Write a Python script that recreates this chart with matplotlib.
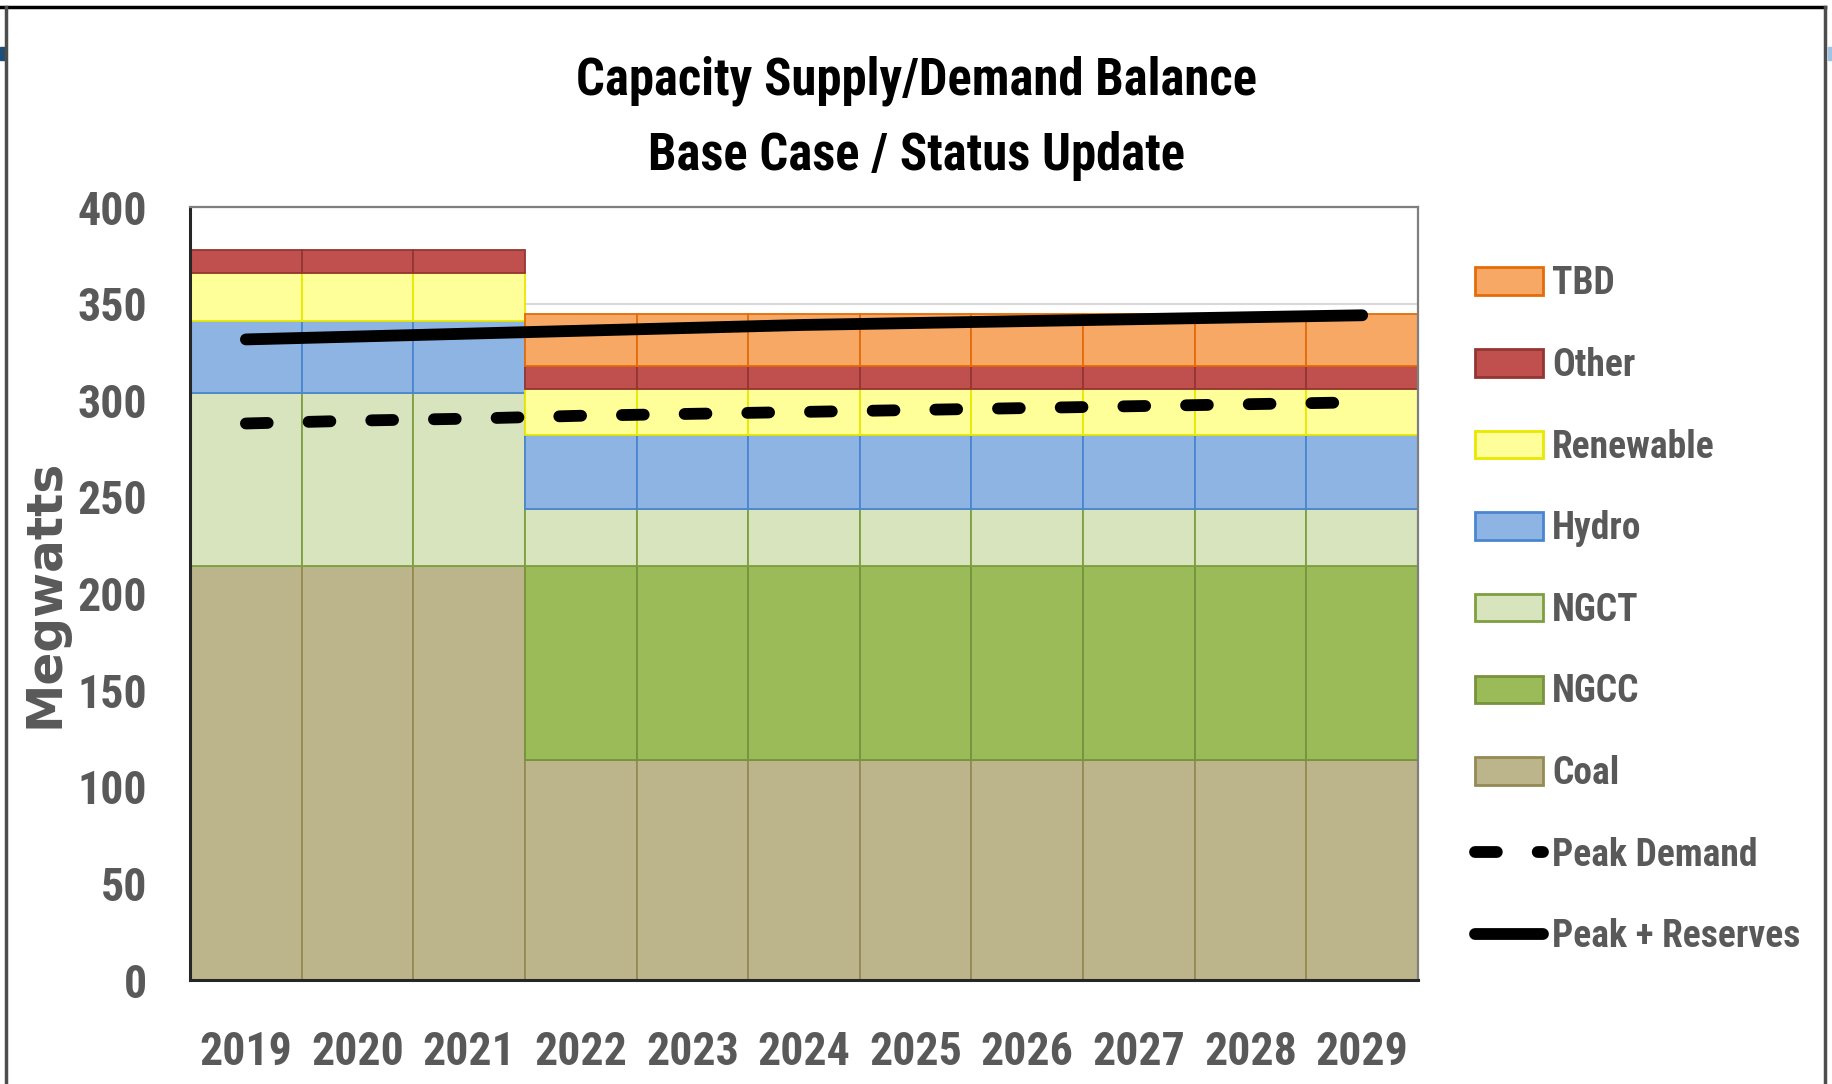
import matplotlib
matplotlib.use("Agg")
import matplotlib.pyplot as plt
import numpy as np
from matplotlib import font_manager
from matplotlib.font_manager import FontProperties
from matplotlib.lines import Line2D
from matplotlib.patches import Rectangle, Patch

# data (MW)
years = ['2019', '2020', '2021', '2022', '2023', '2024', '2025', '2026', '2027', '2028', '2029']
coal = [214, 214, 214, 114, 114, 114, 114, 114, 114, 114, 114]
ngcc = [0, 0, 0, 100, 100, 100, 100, 100, 100, 100, 100]
ngct = [90, 90, 90, 30, 30, 30, 30, 30, 30, 30, 30]
hydro = [37, 37, 37, 38, 38, 38, 38, 38, 38, 38, 38]
renewable = [25, 25, 25, 24, 24, 24, 24, 24, 24, 24, 24]
other = [12, 12, 12, 12, 12, 12, 12, 12, 12, 12, 12]
tbd = [0, 0, 0, 26.5, 26.5, 26.5, 26.5, 26.5, 26.5, 26.5, 26.5]
peak_demand = [288, 289.5, 290.5, 292, 293, 294, 295, 296, 297, 298, 299]
peak_reserves = [331.5, 333, 334.5, 336, 337.5, 339, 340, 341, 342, 343, 344]


def weight_num(w):
    if isinstance(w, (int, float)):
        return w
    return {'bold': 700, 'semibold': 600, 'demibold': 600, 'heavy': 800,
            'black': 900, 'extra bold': 800}.get(str(w).lower(), 400)


def pick_narrow_bold():
    # look for an installed condensed / narrow bold face
    prefs = ['Liberation Sans Narrow', 'Roboto Condensed', 'Open Sans Condensed',
             'Noto Sans', 'Open Sans', 'Roboto', 'DejaVu Sans']
    best = None
    for f in font_manager.fontManager.ttflist:
        st = str(f.stretch).lower()
        narrowish = ('condensed' in st or 'narrow' in f.name.lower()
                     or 'condensed' in f.name.lower()
                     or (isinstance(f.stretch, (int, float)) and f.stretch < 500))
        if not narrowish or f.style != 'normal':
            continue
        w = weight_num(f.weight)
        if w < 600:
            continue
        rank = prefs.index(f.name) if f.name in prefs else len(prefs)
        key = (rank, abs(w - 700))
        if best is None or key < best[0]:
            best = (key, f.fname)
    return best[1] if best else None


narrow_path = pick_narrow_bold()


def nfont(size):
    if narrow_path:
        return FontProperties(fname=narrow_path, size=size)
    return FontProperties(family='Liberation Sans', weight='bold', size=size * 0.84)


grey = '#595959'

fig = plt.figure(figsize=(18.33, 10.84), dpi=100)
ax = fig.add_axes([0.1037, 0.0959, 0.6699, 0.7131])

# bottom -> top stacking order
series = [
    ('Coal', coal, '#BCB48A', '#948A54'),
    ('NGCC', ngcc, '#9BBB59', '#77933C'),
    ('NGCT', ngct, '#D7E4BD', '#7F9F3F'),
    ('Hydro', hydro, '#8EB4E3', '#4A86D0'),
    ('Renewable', renewable, '#FFFF99', '#E8E800'),
    ('Other', other, '#C0504D', '#943634'),
    ('TBD', tbd, '#F7A865', '#E46C0A'),
]

x = np.arange(len(years))
base = np.zeros(len(years))
handles = {}
for name, vals, fc, ec in series:
    vals = np.array(vals, dtype=float)
    m = vals > 0
    ax.bar(x[m], vals[m], width=1.0, bottom=base[m], color=fc, edgecolor=ec,
           linewidth=1.3, zorder=2)
    handles[name] = Patch(facecolor=fc, edgecolor=ec, linewidth=2)
    base += vals

dash = (0, (1.85, 3.46))
ax.plot(x, peak_demand, color='black', lw=8.5, linestyle=dash,
        dash_capstyle='round', zorder=4)
ax.plot(x, peak_reserves, color='black', lw=8.5, solid_capstyle='round', zorder=4)

ax.set_xlim(-0.5, 10.5)
ax.set_ylim(0, 400)
ax.set_yticks(np.arange(0, 401, 50))
ax.set_xticks(x)
ax.set_xticklabels(years)
ax.grid(axis='y', color='#D9D9D9', lw=1.5)
ax.set_axisbelow(True)
ax.tick_params(length=0)
ax.tick_params(axis='x', pad=36)
ax.tick_params(axis='y', pad=31)
for lbl in ax.get_xticklabels() + ax.get_yticklabels():
    lbl.set_fontproperties(nfont(33))
    lbl.set_color(grey)

ax.set_ylabel('Megwatts', fontsize=35, fontweight='bold', color=grey, family='DejaVu Sans')
ax.yaxis.set_label_coords(-0.099, 0.5)

for side in ['left', 'bottom']:
    ax.spines[side].set_color('#262626')
    ax.spines[side].set_linewidth(2.2)
for side in ['top', 'right']:
    ax.spines[side].set_color('#7F7F7F')
    ax.spines[side].set_linewidth(1.6)

# legend
order = ['TBD', 'Other', 'Renewable', 'Hydro', 'NGCT', 'NGCC', 'Coal']
leg_h = [handles[k] for k in order]
leg_h.append(Line2D([], [], color='black', lw=8.5, linestyle=dash, dash_capstyle='round'))
leg_h.append(Line2D([], [], color='black', lw=8.5, solid_capstyle='round'))
leg_l = order + ['Peak Demand', 'Peak + Reserves']
leg = ax.legend(leg_h, leg_l, loc='upper left', bbox_to_anchor=(0.8047, 0.7553),
                bbox_transform=fig.transFigure, frameon=False, prop=nfont(27),
                handlelength=1.81, handleheight=0.75, handletextpad=0.24,
                labelspacing=1.19, borderpad=0, borderaxespad=0)
for t in leg.get_texts():
    t.set_color(grey)

# title, two lines
fig.text(0.5, 0.9124, 'Capacity Supply/Demand Balance', ha='center', va='baseline',
         fontproperties=nfont(36.5))
fig.text(0.5, 0.8432, 'Base Case / Status Update', ha='center', va='baseline',
         fontproperties=nfont(36.5))

# screenshot frame
ytop = 1 - 7 / 1084
fig.add_artist(Line2D([0, 1825 / 1833], [ytop, ytop], transform=fig.transFigure,
                      color='black', lw=2.5))
fig.add_artist(Line2D([6 / 1833, 6 / 1833], [0, ytop], transform=fig.transFigure,
                      color='#4D4D4D', lw=2.5))
fig.add_artist(Line2D([1825 / 1833, 1825 / 1833], [0, ytop], transform=fig.transFigure,
                      color='#4D4D4D', lw=2.5))
fig.add_artist(Rectangle((0, 1 - 60 / 1084), 5 / 1833, 13 / 1084,
                         transform=fig.transFigure, color='#1F4E79'))
fig.add_artist(Rectangle((1828 / 1833, 1 - 60 / 1084), 5 / 1833, 13 / 1084,
                         transform=fig.transFigure, color='#9DC3E6'))

fig.savefig('out.png', dpi=100)
